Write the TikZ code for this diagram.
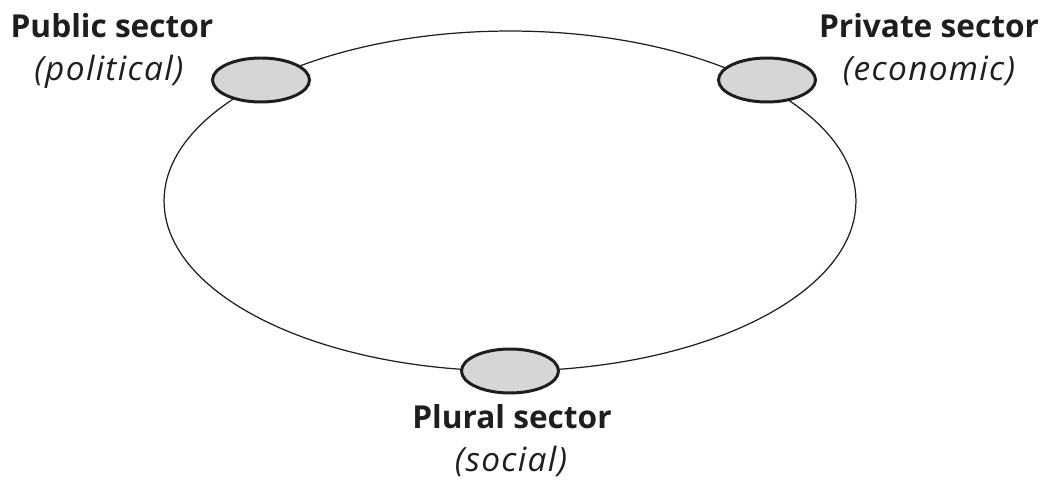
\documentclass[tikz,border=0pt]{standalone}
\usepackage{fontspec}
\setmainfont{Open Sans}
\usetikzlibrary{shapes.geometric}
\definecolor{inkgray}{HTML}{1E1E1E}
\definecolor{sectorfill}{HTML}{D6D6D6}

\begin{document}
\begin{tikzpicture}[x=0.02cm, y=-0.02cm,
  every node/.style={text=inkgray},
  sector/.style={draw=inkgray, ellipse, line width=1.7pt, fill=sectorfill,
    minimum width=1.94cm, minimum height=0.88cm, inner sep=0pt},
  title/.style={anchor=base, font=\fontsize{18}{21}\selectfont\bfseries},
  kind/.style={anchor=base, font=\fontsize{19}{22}\selectfont\itshape\addfontfeatures{LetterSpace=4}}]
\useasboundingbox (0,0) rectangle (1040,489);
\draw[inkgray, line width=0.7pt] (510,201) ellipse [x radius=6.92cm, y radius=3.4cm];
\node[sector] (public) at (261,80) {};
\node[sector] (private) at (767,80) {};
\node[sector] (plural) at (510,371) {};
\node[title] (publicname) at (112,38) {Public sector};
\node[kind] (publickind) at (109,81) {(political)};
\node[title] (privatename) at (929,38) {Private sector};
\node[kind] (privatekind) at (929,81) {(economic)};
\node[title] (pluralname) at (512,428) {Plural sector};
\node[kind] (pluralkind) at (511,471) {(social)};
\end{tikzpicture}
\end{document}
